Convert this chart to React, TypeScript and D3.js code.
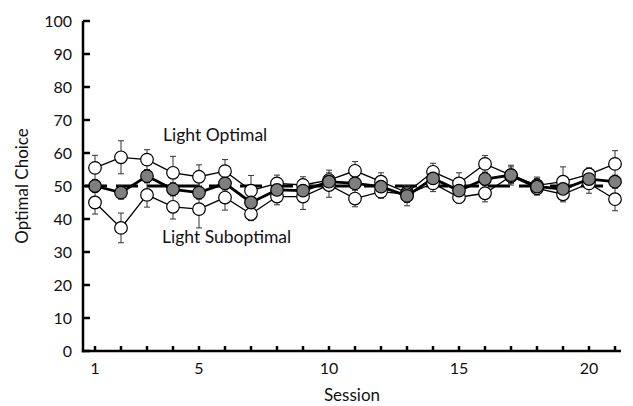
import React from 'react';
import * as d3 from 'd3';

const sessions = d3.range(1, 22);
const xTickLabels = [1, 5, 10, 15, 20];
const yTickValues = [0, 10, 20, 30, 40, 50, 60, 70, 80, 90, 100];

const lightOptimal = [55.5, 58.7, 58, 54, 52.8, 54.5, 48.6, 50.8, 50.3, 51.8, 54.6, 51.3, 48, 54.3, 50.8, 56.7, 53.3, 50.2, 51.3, 53.5, 56.7];
const lightOptimalErr = [3.8, 5, 3, 5, 3.6, 3.5, 4.6, 2.5, 2.5, 3, 2.8, 2.7, 2, 2.6, 3.2, 2.5, 3, 2.5, 4.5, 2, 4];
const lightSuboptimal = [45, 37.3, 47.3, 43.7, 43, 46.5, 41.5, 46.8, 46.8, 50.3, 46.2, 48.3, 47.5, 50.8, 46.6, 47.8, 53, 49.3, 47.5, 50.8, 46];
const lightSuboptimalErr = [3.5, 4.5, 3.7, 3.7, 5.7, 3.8, 2, 2.5, 3.9, 3.7, 2.5, 2, 2.5, 2.5, 1.8, 2.6, 2, 2, 2.3, 3, 3.5];
const overall = [50, 48, 53, 49, 48, 50.8, 45, 48.8, 48.6, 51.3, 50.8, 49.8, 47, 52.3, 48.6, 52.1, 53.3, 49.8, 49.1, 52.1, 51.3];
const overallErr = [2, 2, 2, 2, 2, 2, 2, 1.5, 1.5, 2, 1.5, 1.5, 3, 2, 2, 2, 2.5, 2.5, 2, 2, 2];

const chance = 50;

const W = 633;
const H = 406;
const font = "Lato, 'Open Sans', sans-serif";

const App = () => {
  const x = d3.scaleLinear().domain([1, 21]).range([95, 615]);
  const y = d3.scaleLinear().domain([0, 100]).range([351, 21]);
  const axisX0 = 83;
  const axisX1 = 621;

  const line = d3
    .line<number>()
    .x((_, i) => x(sessions[i]))
    .y((d) => y(d));

  const errorBars = (vals: number[], errs: number[], key: string) =>
    vals.map((v, i) => {
      const cx = x(sessions[i]);
      const top = y(v + errs[i]);
      const bot = y(v - errs[i]);
      return (
        <g key={key + i} stroke="#333" strokeWidth={1}>
          <line x1={cx} x2={cx} y1={top} y2={bot} />
          <line x1={cx - 3} x2={cx + 3} y1={top} y2={top} />
          <line x1={cx - 3} x2={cx + 3} y1={bot} y2={bot} />
        </g>
      );
    });

  const markers = (vals: number[], fill: string, key: string) =>
    vals.map((v, i) => (
      <circle
        key={key + i}
        cx={x(sessions[i])}
        cy={y(v)}
        r={6.3}
        fill={fill}
        stroke="#000"
        strokeWidth={1.2}
      />
    ));

  return (
    <svg width={W} height={H} style={{ position: 'absolute', left: 0, top: 0 }} fontFamily={font}>
      <rect width={W} height={H} fill="#fff" />

      {/* chance line */}
      <line
        x1={axisX0 + 2}
        x2={608}
        y1={y(chance)}
        y2={y(chance)}
        stroke="#000"
        strokeWidth={3}
        strokeDasharray="22,9"
      />

      {errorBars(lightOptimal, lightOptimalErr, 'eo')}
      {errorBars(lightSuboptimal, lightSuboptimalErr, 'es')}
      {errorBars(overall, overallErr, 'em')}

      <path d={line(lightOptimal) ?? ''} fill="none" stroke="#000" strokeWidth={1.3} />
      <path d={line(lightSuboptimal) ?? ''} fill="none" stroke="#000" strokeWidth={1.3} />
      <path d={line(overall) ?? ''} fill="none" stroke="#000" strokeWidth={2.8} />

      {markers(lightOptimal, '#fff', 'mo')}
      {markers(lightSuboptimal, '#fff', 'ms')}
      {markers(overall, '#7f7f7f', 'mm')}

      {/* axes */}
      <line x1={axisX0} x2={axisX0} y1={y(100)} y2={y(0) + 1.2} stroke="#000" strokeWidth={2.5} />
      <line x1={axisX0 - 1.2} x2={axisX1} y1={y(0)} y2={y(0)} stroke="#000" strokeWidth={2.5} />
      {yTickValues.map((t) => (
        <g key={'yt' + t}>
          <line x1={axisX0} x2={axisX0 + 7} y1={y(t)} y2={y(t)} stroke="#000" strokeWidth={2.5} />
          <text x={72} y={y(t)} dy="0.36em" textAnchor="end" fontSize={16} fill="#111">
            {t}
          </text>
        </g>
      ))}
      {sessions.map((s) => (
        <line key={'xt' + s} x1={x(s)} x2={x(s)} y1={y(0)} y2={y(0) - 5} stroke="#000" strokeWidth={2.5} />
      ))}
      {xTickLabels.map((s) => (
        <text key={'xl' + s} x={x(s)} y={374} textAnchor="middle" fontSize={16} fill="#111">
          {s}
        </text>
      ))}

      <text x={352} y={401} textAnchor="middle" fontSize={17} fill="#111">
        Session
      </text>
      <text
        transform={`translate(28,186) rotate(-90)`}
        textAnchor="middle"
        fontSize={17}
        fill="#111"
      >
        Optimal Choice
      </text>

      <text x={163} y={141} fontSize={17.5} fill="#111">
        Light Optimal
      </text>
      <text x={162} y={243} fontSize={17.5} fill="#111">
        Light Suboptimal
      </text>
    </svg>
  );
};

export default App;
